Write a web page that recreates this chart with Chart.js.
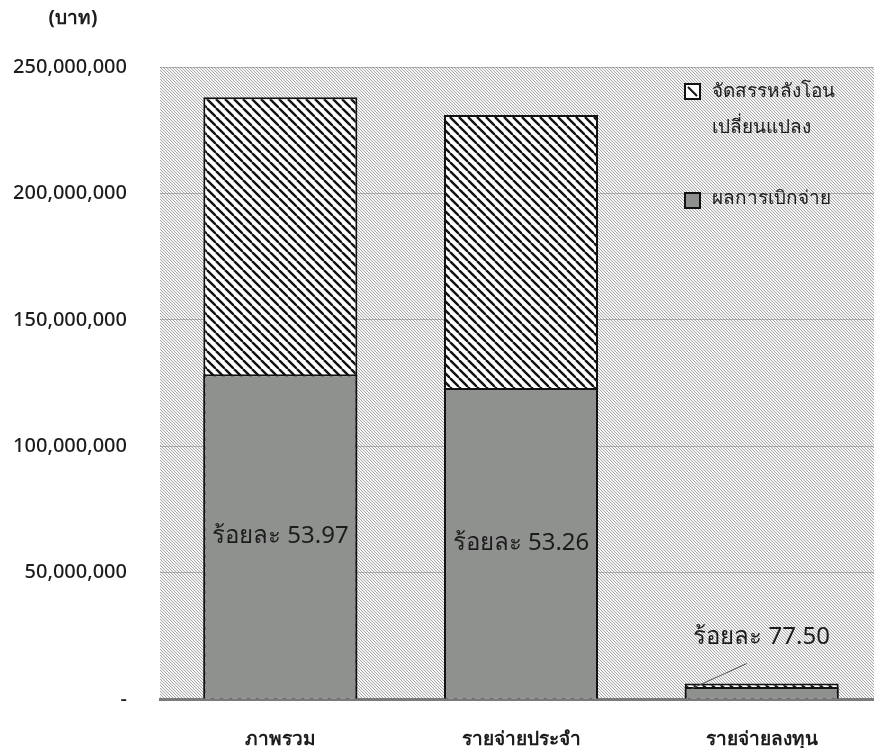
<!DOCTYPE html>
<html>
<head>
<meta charset="utf-8">
<script src="https://cdn.jsdelivr.net/npm/chart.js"></script>
<style>
    html, body { margin: 0; padding: 0; background: #fff; overflow: hidden; }
    #wrap { position: relative; width: 882px; height: 748px; }
</style>
</head>
<body>
<div id="wrap"><canvas id="budgetChart" width="882" height="748"></canvas></div>
<script>
// values (baht)
const categories = ['ภาพรวม', 'รายจ่ายประจำ', 'รายจ่ายลงทุน'];
const allocated = [238000000, 231000000, 6100000];
const disbursed = [128450000, 123030000, 4730000];
const percentLabels = ['ร้อยละ 53.97', 'ร้อยละ 53.26', 'ร้อยละ 77.50'];
const yTickValues = [0, 50000000, 100000000, 150000000, 200000000, 250000000];
const seriesNames = ['จัดสรรหลังโอนเปลี่ยนแปลง', 'ผลการเบิกจ่าย'];
const legendLines = [['จัดสรรหลังโอน', 'เปลี่ยนแปลง'], ['ผลการเบิกจ่าย']];
const unitLabel = '(บาท)';

const FONT = "Tahoma, 'Noto Sans', 'DejaVu Sans', sans-serif";

function makeHatch(size, color, width, bg) {
    // diagonal lines running top-left to bottom-right
    const c = document.createElement('canvas');
    c.width = size;
    c.height = size;
    const g = c.getContext('2d');
    if (bg) {
        g.fillStyle = bg;
        g.fillRect(0, 0, size, size);
    }
    g.strokeStyle = color;
    g.lineWidth = width;
    for (let dx = -size; dx <= size; dx += size) {
        g.beginPath();
        g.moveTo(dx, 0);
        g.lineTo(dx + size, size);
        g.stroke();
    }
    return g.createPattern(c, 'repeat');
}

const barHatch = makeHatch(9, '#111', 2.4, '#fff');
const areaHatch = makeHatch(3, '#a2a2a2', 0.9, '#f4f4f4');
const grayFill = '#8f918f';

// hatched plot background
const plotBackground = {
    id: 'plotBackground',
    beforeDraw(chart) {
        const { ctx, chartArea: a } = chart;
        ctx.save();
        ctx.fillStyle = areaHatch;
        ctx.fillRect(a.left, a.top, a.right - a.left, a.bottom - a.top);
        ctx.restore();
    }
};

// percentage labels, legend and unit text
const annotations = {
    id: 'annotations',
    afterDatasetsDraw(chart) {
        const { ctx, scales: { x, y } } = chart;
        ctx.save();
        ctx.font = '24px ' + FONT;
        ctx.fillStyle = '#1c1c1c';
        ctx.textAlign = 'center';
        ctx.textBaseline = 'middle';
        for (let i = 0; i < categories.length; i++) {
            const cx = x.getPixelForValue(i);
            if (i < 2) {
                ctx.fillText(percentLabels[i], cx, y.getPixelForValue(disbursed[i] / 2));
            } else {
                const top = y.getPixelForValue(allocated[i]);
                ctx.fillText(percentLabels[i], cx, top - 46);
                // leader line
                ctx.strokeStyle = '#555';
                ctx.lineWidth = 1;
                ctx.beginPath();
                ctx.moveTo(cx - 70, top + 5);
                ctx.lineTo(cx - 15, top - 20);
                ctx.stroke();
            }
        }

        // legend inside the plot
        const lx = 685, ly = 84;
        ctx.font = '19px ' + FONT;
        ctx.textAlign = 'left';
        ctx.fillStyle = '#fff';
        ctx.fillRect(lx, ly, 15, 15);
        ctx.strokeStyle = '#111';
        ctx.lineWidth = 2;
        ctx.strokeRect(lx, ly, 15, 15);
        ctx.beginPath();
        ctx.moveTo(lx + 3, ly + 3);
        ctx.lineTo(lx + 12, ly + 12);
        ctx.stroke();
        ctx.fillStyle = '#1c1c1c';
        ctx.fillText(legendLines[0][0], lx + 27, ly + 8);
        ctx.fillText(legendLines[0][1], lx + 27, ly + 44);

        const ly2 = 193;
        ctx.fillStyle = grayFill;
        ctx.fillRect(lx, ly2, 15, 15);
        ctx.strokeRect(lx, ly2, 15, 15);
        ctx.fillStyle = '#1c1c1c';
        ctx.fillText(legendLines[1][0], lx + 27, ly2 + 6);

        // unit above the axis
        ctx.font = 'bold 19px ' + FONT;
        ctx.textAlign = 'center';
        ctx.fillText(unitLabel, 73, 19);
        ctx.restore();
    }
};

const ctx = document.getElementById('budgetChart').getContext('2d');

const budgetChart = new Chart(ctx, {
    type: 'bar',
    data: {
        labels: categories,
        datasets: [{
            label: seriesNames[1],
            data: disbursed,
            backgroundColor: grayFill,
            borderColor: '#111',
            borderWidth: 2,
            grouped: false,
            order: 1,
        }, {
            label: seriesNames[0],
            data: allocated,
            backgroundColor: barHatch,
            borderColor: '#111',
            borderWidth: 2,
            grouped: false,
            order: 2,
        }],
    },
    options: {
        responsive: false,
        animation: false,
        categoryPercentage: 0.8,
        barPercentage: 0.8,
        layout: { padding: { top: 67, right: 0, bottom: 0, left: 0 } },
        plugins: {
            legend: { display: false },
            tooltip: { enabled: false },
        },
        scales: {
            x: {
                grid: { display: false },
                border: { color: '#7a7a7a', width: 3 },
                ticks: {
                    color: '#1c1c1c',
                    padding: 21,
                    font: { family: FONT, size: 19, weight: 'bold' },
                },
                afterFit(scale) { scale.height = 49; },
            },
            y: {
                min: 0,
                max: 250000000,
                afterBuildTicks(scale) {
                    scale.ticks = yTickValues.map(v => ({ value: v }));
                },
                grid: { color: 'rgba(110,110,110,0.45)', lineWidth: 1, drawTicks: false },
                border: { display: false },
                ticks: {
                    color: '#1c1c1c',
                    padding: 33,
                    font: { family: FONT, size: 20, weight: '500' },
                    callback: v => v === 0 ? '-' : v.toLocaleString('en-US'),
                },
                afterFit(scale) { scale.width = 160; },
            },
        },
    },
    plugins: [plotBackground, annotations],
});
</script>
</body>
</html>
